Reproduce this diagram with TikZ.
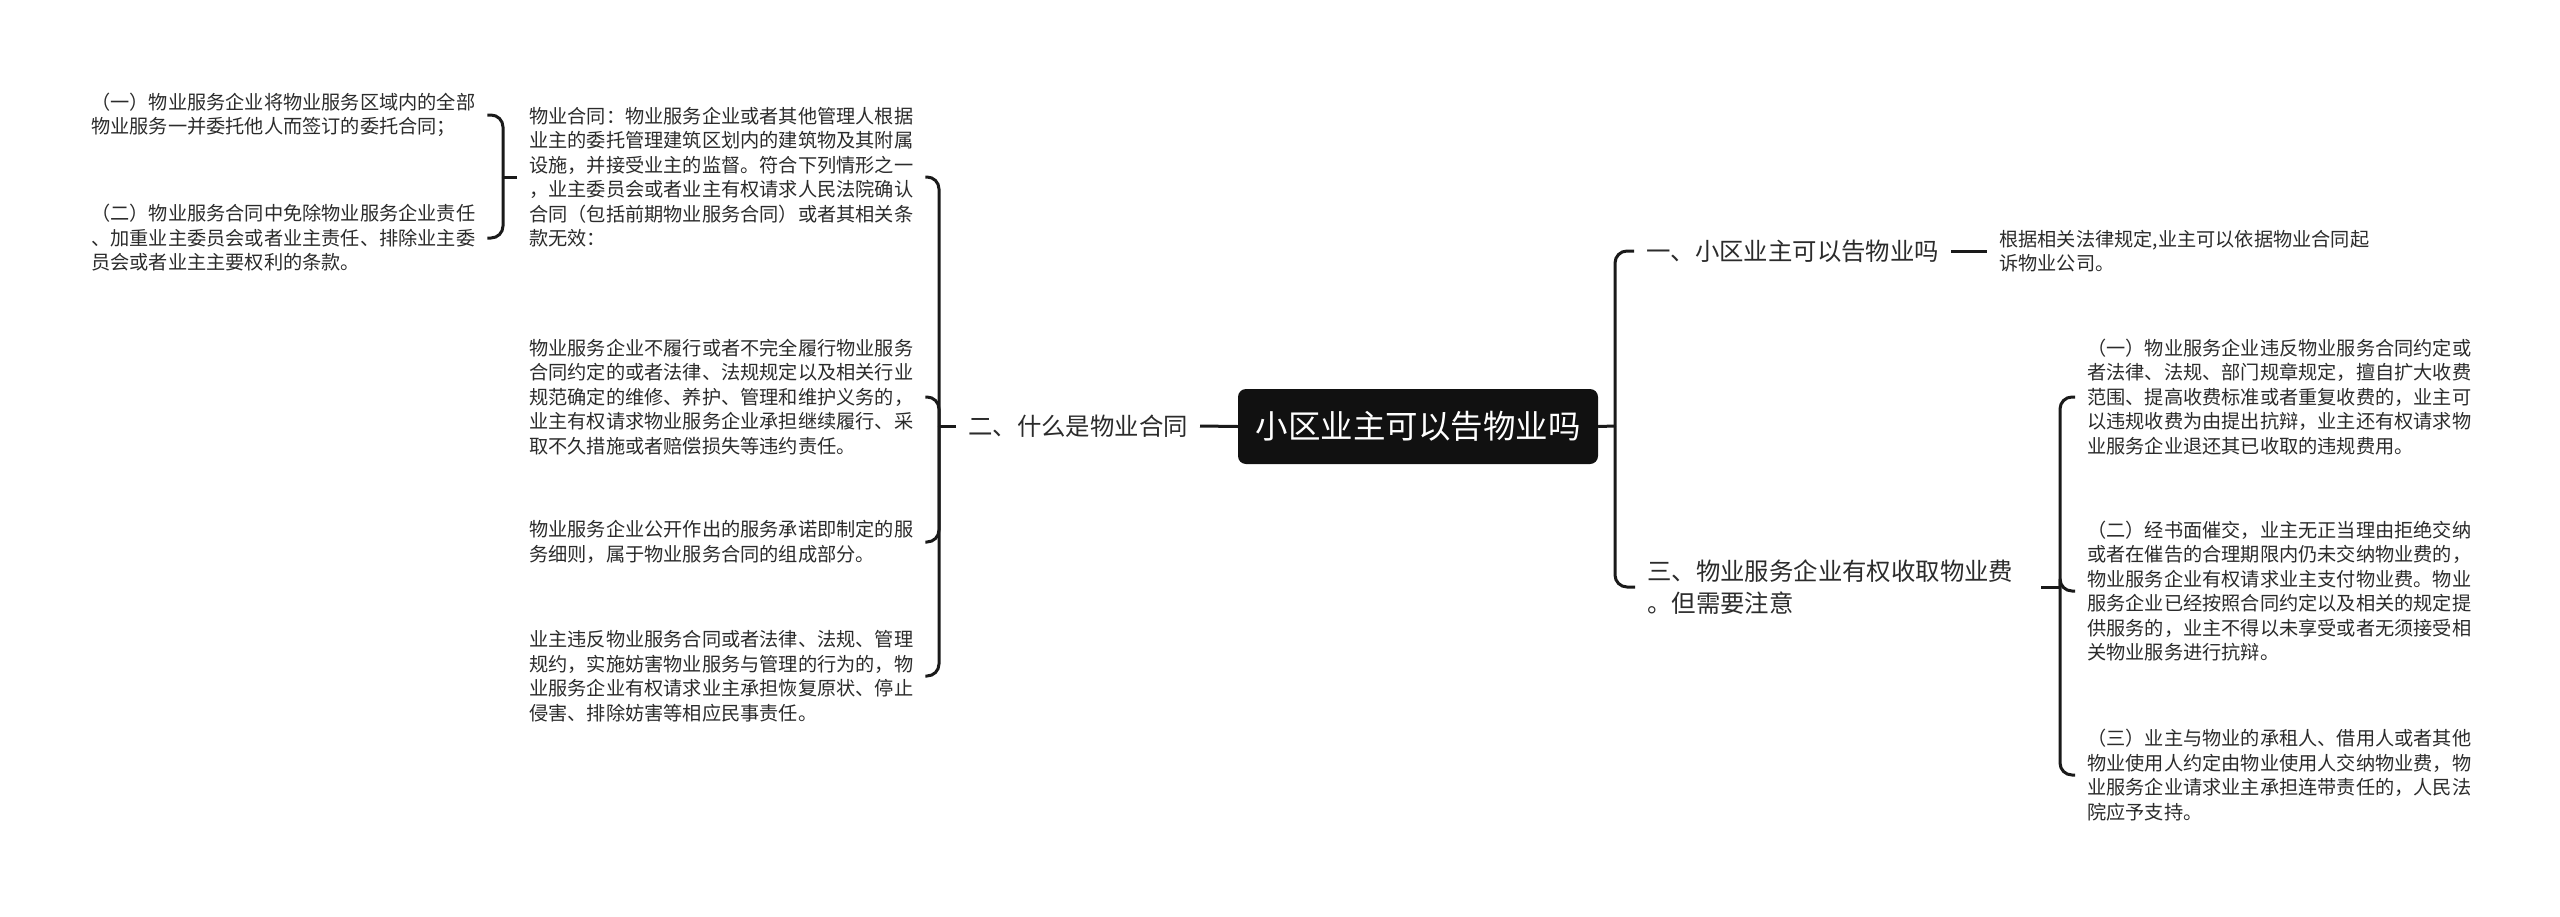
\documentclass[tikz,border=0pt]{standalone}
\usepackage{fontspec}
\setmainfont{Noto Sans CJK SC}
\definecolor{linec}{HTML}{1A1A1A}
\definecolor{textc}{HTML}{2B2B2B}
\definecolor{rootc}{HTML}{111111}
\tikzset{
  conn/.style={draw=linec, line width=3pt},
  rc/.style={conn, rounded corners=12pt},
  leaf/.style={text=textc, align=left, inner xsep=12pt, inner ysep=4pt,
    font=\fontsize{19.2}{24.5}\selectfont},
  branch/.style={text=textc, align=left, inner xsep=12pt, inner ysep=4pt,
    font=\fontsize{24.4}{32}\selectfont},
  rootbox/.style={fill=rootc, text=white, rounded corners=8pt,
    minimum width=360pt, minimum height=75pt, inner sep=0pt,
    font=\fontsize{32.5}{36}\selectfont}
}
\begin{document}
\begin{tikzpicture}[x=1pt,y=-1pt]
\useasboundingbox (0,0) rectangle (2560,916);

% root
\node[rootbox] (root) at (1418,426.5) {小区业主可以告物业吗};

% left branch
\node[branch, anchor=west] (l2) at (956,426) {二、什么是物业合同};
\coordinate (lb) at (939,426);

\node[leaf, anchor=west] (a1) at (517,177) {物业合同：物业服务企业或者其他管理人根据\\业主的委托管理建筑区划内的建筑物及其附属\\设施，并接受业主的监督。符合下列情形之一\\，业主委员会或者业主有权请求人民法院确认\\合同（包括前期物业服务合同）或者其相关条\\款无效：};
\node[leaf, anchor=west] (a2) at (517,397) {物业服务企业不履行或者不完全履行物业服务\\合同约定的或者法律、法规规定以及相关行业\\规范确定的维修、养护、管理和维护义务的，\\业主有权请求物业服务企业承担继续履行、采\\取不久措施或者赔偿损失等违约责任。};
\node[leaf, anchor=west] (a3) at (517,542) {物业服务企业公开作出的服务承诺即制定的服\\务细则，属于物业服务合同的组成部分。};
\node[leaf, anchor=west] (a4) at (517,676) {业主违反物业服务合同或者法律、法规、管理\\规约，实施妨害物业服务与管理的行为的，物\\业服务企业有权请求业主承担恢复原状、停止\\侵害、排除妨害等相应民事责任。};

\coordinate (fb) at (503,177);
\node[leaf, anchor=west] (f1) at (79,115) {（一）物业服务企业将物业服务区域内的全部\\物业服务一并委托他人而签订的委托合同；};
\node[leaf, anchor=west] (f2) at (79,238) {（二）物业服务合同中免除物业服务企业责任\\、加重业主委员会或者业主责任、排除业主委\\员会或者业主主要权利的条款。};

% right branch
\coordinate (rb) at (1615,426);
\node[branch, anchor=west] (r1) at (1634,251) {一、小区业主可以告物业吗};
\node[leaf, anchor=west] (r1a) at (1987,251) {根据相关法律规定,业主可以依据物业合同起\\诉物业公司。};
\node[branch, anchor=west, text width=382pt] (r3) at (1635,587) {三、物业服务企业有权收取物业费\\。但需要注意};

\coordinate (bb) at (2060,587);
\node[leaf, anchor=west] (b1) at (2075,397) {（一）物业服务企业违反物业服务合同约定或\\者法律、法规、部门规章规定，擅自扩大收费\\范围、提高收费标准或者重复收费的，业主可\\以违规收费为由提出抗辩，业主还有权请求物\\业服务企业退还其已收取的违规费用。};
\node[leaf, anchor=west] (b2) at (2075,591) {（二）经书面催交，业主无正当理由拒绝交纳\\或者在催告的合理期限内仍未交纳物业费的，\\物业服务企业有权请求业主支付物业费。物业\\服务企业已经按照合同约定以及相关的规定提\\供服务的，业主不得以未享受或者无须接受相\\关物业服务进行抗辩。};
\node[leaf, anchor=west] (b3) at (2075,775) {（三）业主与物业的承租人、借用人或者其他\\物业使用人约定由物业使用人交纳物业费，物\\业服务企业请求业主承担连带责任的，人民法\\院应予支持。};

% connectors
\draw[conn] (root.west) -- (l2.east);
\draw[conn] (l2.west) -- (lb);
\foreach \c in {a1,a2,a3,a4} { \draw[rc] (lb) |- (\c.east); }
\draw[conn] (a1.west) -- (fb);
\foreach \c in {f1,f2} { \draw[rc] (fb) |- (\c.east); }

\draw[conn] (root.east) -- (rb);
\foreach \c in {r1,r3} { \draw[rc] (rb) |- (\c.west); }
\draw[conn] (r1.east) -- (r1a.west);
\draw[conn] (r3.east) -- (bb);
\foreach \c in {b1,b2,b3} { \draw[rc] (bb) |- (\c.west); }
\end{tikzpicture}
\end{document}
